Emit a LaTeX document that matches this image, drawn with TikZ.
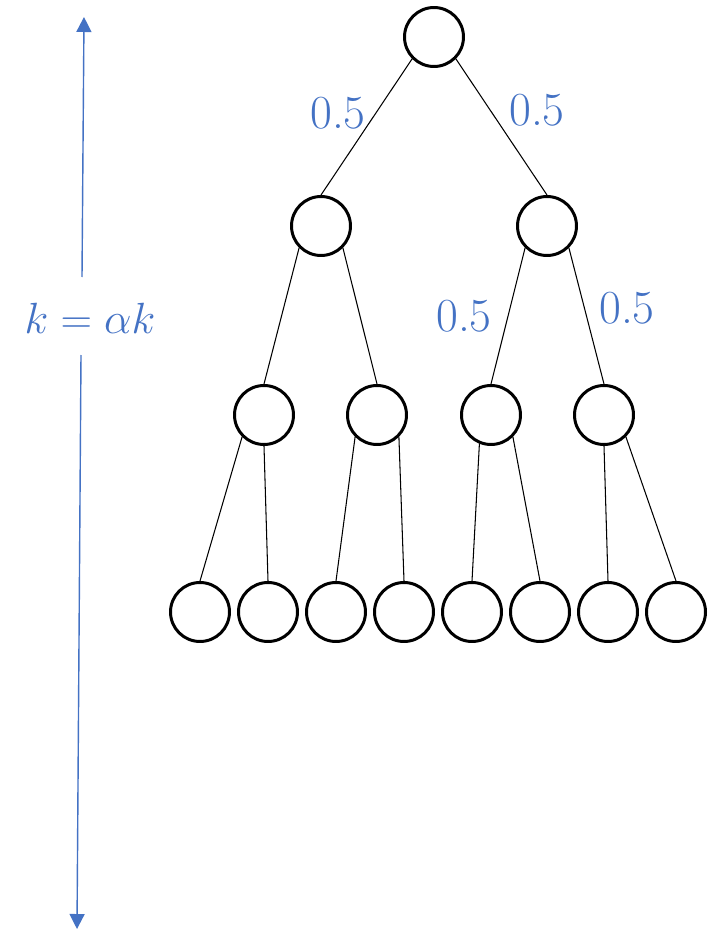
\documentclass[tikz,border=0pt]{standalone}
\usetikzlibrary{arrows.meta}
\definecolor{lblue}{HTML}{4472C4}
\begin{document}
\begin{tikzpicture}[x=0.02cm,y=-0.02cm,
  vx/.style={circle,draw,line width=1.7pt,minimum size=1.18cm,inner sep=0pt},
  prob/.style={text=lblue,font=\fontsize{27}{30}\selectfont},
  edge/.style={line width=0.6pt},
  dim/.style={draw=lblue,line width=0.8pt,-{Triangle[width=0.3cm,length=0.3cm]}}]
\useasboundingbox (0,0) rectangle (719,929);
\draw (434,37) node[vx] (r) {};
\draw (321,226) node[vx] (a) {};
\draw (547,226) node[vx] (b) {};
\draw (264,415) node[vx] (a1) {};
\draw (377,415) node[vx] (a2) {};
\draw (491,415) node[vx] (b1) {};
\draw (604,415) node[vx] (b2) {};
\draw (200,612) node[vx] (c1) {};
\draw (268,612) node[vx] (c2) {};
\draw (336,612) node[vx] (c3) {};
\draw (404,612) node[vx] (c4) {};
\draw (472,612) node[vx] (c5) {};
\draw (540,612) node[vx] (c6) {};
\draw (608,612) node[vx] (c7) {};
\draw (676,612) node[vx] (c8) {};
\draw[edge] (r.225) -- (a.north);
\draw[edge] (r.315) -- (b.north);
\draw[edge] (a.225) -- (a1.north);
\draw[edge] (a.315) -- (a2.north);
\draw[edge] (b.225) -- (b1.north);
\draw[edge] (b.315) -- (b2.north);
\draw[edge] (a1.225) -- (c1.north);
\draw[edge] (a1.south) -- (c2.north);
\draw[edge] (a2.225) -- (c3.north);
\draw[edge] (a2.315) -- (c4.north);
\draw[edge] (b1.248) -- (c5.north);
\draw[edge] (b1.315) -- (c6.north);
\draw[edge] (b2.south) -- (c7.north);
\draw[edge] (b2.315) -- (c8.north);
\node[prob] (p1) at (338,113) {0.5};
\node[prob] (p2) at (537,110) {0.5};
\node[prob] (p3) at (464,316) {0.5};
\node[prob] (p4) at (627,308) {0.5};
\node[prob,font=\fontsize{29}{32}\selectfont] (kl) at (90,318) {$k=\alpha k$};
\coordinate (gt) at (82,277);
\coordinate (gb) at (81,355);
\coordinate (tt) at (84,17);
\coordinate (tb) at (77,929);
\draw[dim] (gt) -- (tt);
\draw[dim] (gb) -- (tb);
\end{tikzpicture}
\end{document}
